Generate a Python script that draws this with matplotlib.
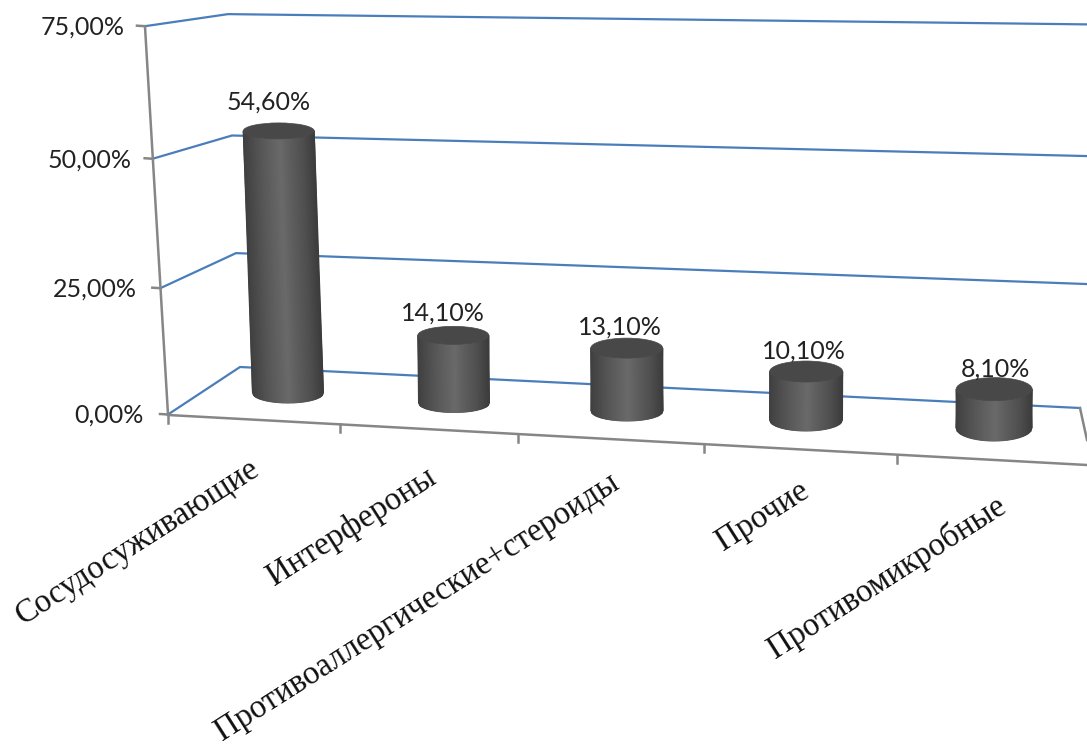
import numpy as np
import matplotlib
matplotlib.use("Agg")
import matplotlib.pyplot as plt
from matplotlib.colors import LinearSegmentedColormap
from matplotlib.patches import Ellipse

categories = ["Сосудосуживающие", "Интерфероны", "Противоаллергические+стероиды",
              "Прочие", "Противомикробные"]
values = [54.6, 14.1, 13.1, 10.1, 8.1]
value_labels = ["54,60%", "14,10%", "13,10%", "10,10%", "8,10%"]
y_ticks = [0, 25, 50, 75]
y_tick_labels = ["0,00%", "25,00%", "50,00%", "75,00%"]

# layout of the perspective view, in figure pixels
BASE_X = [288, 454, 627, 806, 994]
BASE_Y = [393, 403, 411, 420, 428]
RX = [35.5, 35.5, 36, 36.5, 38]
RY = [10, 9.5, 10, 11, 13]
TOP_RY = [8, 9, 10, 10.5, 11.5]
TILT = [-0.17, -0.05, -0.02, 0.02, 0.02]   # x shift per % going up
PX_PER_PCT = 4.8
LABEL_DX = [-10, -10, -7, -2, 1]
LABEL_DY = [-29, -22, -21, -20, -20]
TICK_X = [340, 518, 704, 897]
TICK_LABEL_GAP = [24, 23, 21, 20]
CAT_END = [(249, 453), (425, 462), (608, 467), (798, 475), (995, 490)]

BLUE = "#4a7ebb"
GREY = "#868686"

def front(v):
    return 168 - 0.307 * v, 414.5 - 4.99 * v - 0.0025 * v ** 2

def corner(v):
    return 240 - 0.16 * v, 367 - 4.48 * v - 0.0030 * v ** 2

def right(v):
    return 1080 + 0.5 * v, 408 - 4.87 * v - 0.0032 * v ** 2

def floor_front(x):
    return 415 + (x - 168) * (465 - 415) / (1087 - 168)

fig = plt.figure(figsize=(10.87, 7.44), dpi=100, facecolor="white")
ax = fig.add_axes([0, 0, 1, 1])

# grid lines on side and back walls
for v in y_ticks:
    pts = [front(v), corner(v), right(v)]
    ax.plot(*zip(*pts), color=BLUE, lw=1.6, zorder=1, solid_joinstyle="miter")

# axis lines and ticks
ax.plot(*zip(front(0), front(75)), color=GREY, lw=1.8, zorder=2)
ax.plot([168, 1087], [415, floor_front(1087)], color=GREY, lw=1.8, zorder=2)
ax.plot([1080, 1087], [408, 440], color=GREY, lw=1.8, zorder=2)
for v, lab, gap in zip(y_ticks, y_tick_labels, TICK_LABEL_GAP):
    fx, fy = front(v)
    ax.plot([fx - 8, fx], [fy - 0.5, fy], color=GREY, lw=1.8, zorder=2)
    ax.text(fx - gap, fy + 1, lab, ha="right", va="center", fontsize=18,
            family="Lato", color="#222222")
for x in [168] + TICK_X:
    y = floor_front(x)
    ax.plot([x, x], [y, y + 8], color=GREY, lw=1.8, zorder=2)

# cylinders
shade = LinearSegmentedColormap.from_list(
    "cyl", [(0, "#404040"), (0.25, "#575757"), (0.52, "#6a6a6a"),
            (0.65, "#5e5e5e"), (0.85, "#4e4e4e"), (1, "#3c3c3c")])
t = np.linspace(-1, 1, 60)
for i, v in enumerate(values):
    h = v * PX_PER_PCT
    bx, by = BASE_X[i], BASE_Y[i]
    tx, ty = bx + TILT[i] * v, by - h
    rx, ry = RX[i], RY[i]
    sag = ry * np.sqrt(1 - t ** 2)
    X = np.vstack([tx + rx * t, bx + rx * t])
    Y = np.vstack([ty + TOP_RY[i] * np.sqrt(1 - t ** 2), by + sag])
    C = np.vstack([(t + 1) / 2, (t + 1) / 2])
    ax.pcolormesh(X, Y, C, cmap=shade, vmin=0, vmax=1, shading="gouraud", zorder=3)
    ax.add_patch(Ellipse((tx, ty), 2 * rx, 2 * TOP_RY[i], facecolor="#484848",
                         edgecolor="#484848", lw=0.5, zorder=4))
    ax.text(tx + LABEL_DX[i], ty + LABEL_DY[i], value_labels[i], ha="center", va="center",
            fontsize=18, family="Lato", color="#222222", zorder=5)

# category labels
for (x, y), lab in zip(CAT_END, categories):
    ax.text(x, y, lab, ha="right", va="top", rotation=32.5, rotation_mode="anchor",
            fontsize=23.5, family="Liberation Serif", color="#111111")

ax.set_xlim(0, 1087)
ax.set_ylim(744, 0)
ax.axis("off")
fig.savefig("out.png", dpi=100)
